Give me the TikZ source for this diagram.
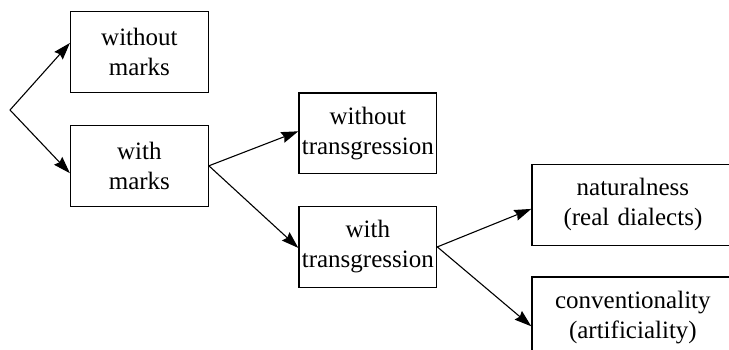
\documentclass[tikz,border=0pt]{standalone}
\usepackage{fontspec}
\setmainfont{Liberation Serif}
\usepackage{tikz}
\usetikzlibrary{shapes, arrows, arrows.meta, positioning}
\tikzset{
  mark box/.style={rectangle, draw, line width=0.6pt, minimum width=68.9pt, minimum height=40.4pt, text width=68.9pt, align=center, inner sep=0, font=\fontsize{12.5}{15}\selectfont},
  wide box/.style={mark box, minimum width=101pt, text width=101pt},
  fan/.style={-{Stealth[length=8.5pt, width=5.6pt, inset=1pt]}, line width=0.55pt},
}
\begin{document}
\begin{tikzpicture}
\useasboundingbox (0,0) rectangle (364.5pt,-174.5pt);
%marks or not
\node[mark box] (no_marks) at (69.7pt,-26.1pt) {without\\marks};
\node[mark box, below=15.8pt of no_marks] (marks) {with\\marks};
\coordinate (root) at (5pt,-55pt);
%transgression or not
\node[mark box, right=44.7pt of marks, yshift=16.25pt] (no_trans) {without\\transgression};
\node[mark box, below=15.8pt of no_trans] (trans) {with\\transgression};
%kinds of transgression
\node[wide box, right=47pt of trans, yshift=21pt] (natural) {naturalness\\(real dialects)};
\node[wide box, below=15.2pt of natural] (convention) {conventionality\\(artificiality)};
% links
\draw[fan] (root) -- ([yshift=4.6pt]no_marks.west);
\draw[fan] (root) -- ([yshift=-3.7pt]marks.west);
\draw[fan] (marks.east) -- ([yshift=1pt]no_trans.west);
\draw[fan] (marks.east) -- ([yshift=-0.5pt]trans.west);
\draw[fan] (trans.east) -- ([yshift=-2pt]natural.west);
\draw[fan] (trans.east) -- ([yshift=-4.5pt]convention.west);
\end{tikzpicture}
\end{document}
